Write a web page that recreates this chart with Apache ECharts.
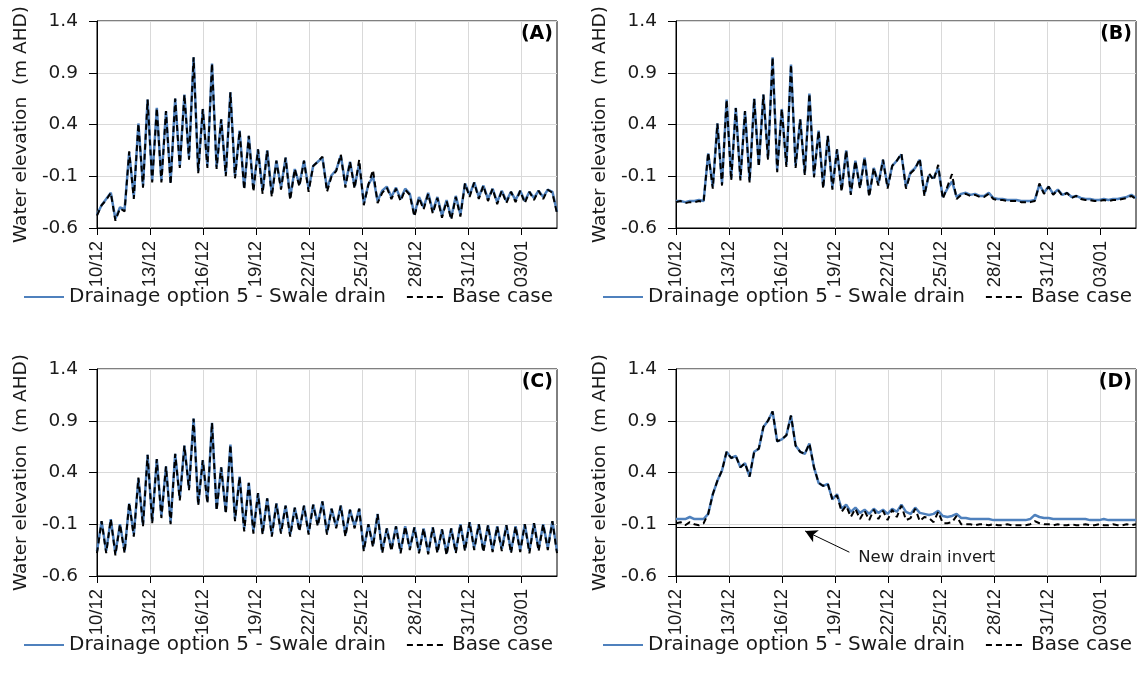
<!DOCTYPE html>
<html>
<head>
<meta charset="utf-8">
<script src="https://cdn.jsdelivr.net/npm/echarts@6/dist/echarts.min.js"></script>
<style>
html,body{margin:0;padding:0;background:#fff;}
#chart{width:1143px;height:682px;}
</style>
</head>
<body>
<div id="chart"></div>
<script>
// ---- data ----
const tickLabels = ['10/12','13/12','16/12','19/12','22/12','25/12','28/12','31/12','03/01'];
const tickDays = [0,3,6,9,12,15,18,21,24];
const stepDays = 0.26;           // sampling step (days since 10/12)
const seriesNames = ['Drainage option 5 - Swale drain', 'Base case'];
const panelLabels = ['(A)','(B)','(C)','(D)'];
const yTicks = [-0.6,-0.1,0.4,0.9,1.4];
const drainInvert = -0.13;
const invertText = 'New drain invert';

const swaleA = [
 -0.47,-0.38,-0.32,-0.26,-0.51,-0.40,-0.42,0.13,-0.30,0.41,
 -0.19,0.64,-0.14,0.56,-0.14,0.53,-0.16,0.65,0.00,0.69,
 0.08,1.05,-0.05,0.55,0.00,0.99,-0.01,0.45,-0.08,0.71,
 -0.10,0.34,-0.21,0.29,-0.22,0.16,-0.24,0.15,-0.27,0.05,
 -0.21,0.08,-0.30,-0.03,-0.18,0.05,-0.22,0.00,0.04,0.08,
 -0.22,-0.09,-0.04,0.10,-0.18,0.04,-0.20,0.02,-0.36,-0.18,
 -0.10,-0.34,-0.24,-0.20,-0.30,-0.21,-0.32,-0.22,-0.27,-0.47,
 -0.30,-0.40,-0.26,-0.44,-0.30,-0.48,-0.33,-0.50,-0.29,-0.47,
 -0.17,-0.28,-0.16,-0.30,-0.19,-0.32,-0.22,-0.35,-0.24,-0.34,
 -0.25,-0.33,-0.24,-0.34,-0.25,-0.31,-0.24,-0.30,-0.23,-0.25,
 -0.44];
const baseA = [
 -0.48,-0.38,-0.33,-0.26,-0.53,-0.41,-0.44,0.14,-0.32,0.41,
 -0.21,0.64,-0.16,0.56,-0.16,0.53,-0.18,0.65,-0.02,0.69,
 0.06,1.05,-0.07,0.55,-0.02,0.99,-0.03,0.45,-0.10,0.71,
 -0.12,0.34,-0.23,0.29,-0.25,0.16,-0.27,0.15,-0.30,0.05,
 -0.23,0.08,-0.33,-0.03,-0.20,0.05,-0.25,0.00,0.04,0.09,
 -0.25,-0.10,-0.05,0.11,-0.21,0.04,-0.22,0.06,-0.38,-0.18,
 -0.04,-0.36,-0.26,-0.21,-0.32,-0.22,-0.34,-0.23,-0.28,-0.49,
 -0.31,-0.42,-0.27,-0.46,-0.31,-0.50,-0.34,-0.52,-0.30,-0.49,
 -0.17,-0.30,-0.16,-0.32,-0.19,-0.34,-0.22,-0.37,-0.24,-0.36,
 -0.25,-0.35,-0.24,-0.36,-0.25,-0.33,-0.24,-0.32,-0.23,-0.26,
 -0.46];
const swaleB = [
 -0.34,-0.34,-0.35,-0.34,-0.34,-0.33,-0.34,0.12,-0.20,0.41,
 -0.17,0.64,-0.12,0.56,-0.12,0.53,-0.14,0.65,0.01,0.69,
 0.08,1.05,-0.04,0.55,0.01,0.98,0.00,0.45,-0.07,0.70,
 -0.09,0.34,-0.20,0.29,-0.21,0.16,-0.23,0.15,-0.26,0.05,
 -0.20,0.08,-0.28,-0.02,-0.17,0.06,-0.20,0.00,0.05,0.11,
 -0.20,-0.06,-0.02,0.06,-0.27,-0.09,-0.12,-0.02,-0.30,-0.22,
 -0.15,-0.30,-0.27,-0.26,-0.28,-0.27,-0.29,-0.29,-0.26,-0.31,
 -0.32,-0.32,-0.33,-0.33,-0.33,-0.34,-0.34,-0.34,-0.33,-0.18,
 -0.26,-0.20,-0.27,-0.23,-0.28,-0.26,-0.30,-0.29,-0.31,-0.32,
 -0.32,-0.33,-0.33,-0.32,-0.33,-0.32,-0.32,-0.31,-0.30,-0.28,
 -0.31];
const baseB = [
 -0.35,-0.34,-0.36,-0.35,-0.35,-0.34,-0.35,0.13,-0.22,0.41,
 -0.19,0.64,-0.14,0.56,-0.14,0.53,-0.16,0.65,-0.01,0.69,
 0.06,1.05,-0.06,0.55,-0.01,0.98,-0.02,0.45,-0.09,0.70,
 -0.11,0.34,-0.22,0.29,-0.23,0.16,-0.25,0.15,-0.28,0.05,
 -0.22,0.08,-0.30,-0.02,-0.19,0.06,-0.22,0.00,0.05,0.12,
 -0.22,-0.07,-0.03,0.07,-0.29,-0.07,-0.14,0.01,-0.32,-0.20,
 -0.08,-0.32,-0.28,-0.27,-0.29,-0.28,-0.30,-0.30,-0.27,-0.32,
 -0.33,-0.33,-0.34,-0.34,-0.34,-0.35,-0.35,-0.35,-0.34,-0.17,
 -0.27,-0.20,-0.28,-0.23,-0.29,-0.26,-0.31,-0.29,-0.32,-0.33,
 -0.33,-0.34,-0.34,-0.33,-0.34,-0.33,-0.33,-0.32,-0.31,-0.29,
 -0.32];
const swaleC = [
 -0.36,-0.07,-0.36,-0.05,-0.38,-0.10,-0.36,0.10,-0.20,0.34,
 -0.10,0.57,-0.07,0.53,-0.02,0.46,-0.08,0.58,0.15,0.66,
 0.25,0.92,0.10,0.52,0.12,0.88,0.05,0.45,0.02,0.67,
 -0.05,0.36,-0.15,0.30,-0.17,0.20,-0.18,0.15,-0.20,0.10,
 -0.17,0.08,-0.20,0.06,-0.15,0.08,-0.18,0.09,-0.10,0.12,
 -0.18,0.05,-0.12,0.08,-0.20,0.04,-0.12,0.05,-0.34,-0.10,
 -0.30,0.00,-0.36,-0.14,-0.34,-0.12,-0.36,-0.12,-0.33,-0.13,
 -0.36,-0.14,-0.37,-0.13,-0.36,-0.15,-0.38,-0.14,-0.36,-0.10,
 -0.34,-0.08,-0.33,-0.10,-0.35,-0.11,-0.35,-0.12,-0.34,-0.11,
 -0.36,-0.12,-0.35,-0.10,-0.36,-0.09,-0.34,-0.10,-0.33,-0.07,
 -0.36];
const baseC = [
 -0.38,-0.07,-0.38,-0.05,-0.40,-0.10,-0.38,0.11,-0.22,0.35,
 -0.12,0.57,-0.09,0.53,-0.04,0.46,-0.10,0.58,0.13,0.66,
 0.23,0.92,0.08,0.52,0.10,0.88,0.03,0.45,0.00,0.67,
 -0.07,0.36,-0.17,0.30,-0.19,0.20,-0.20,0.15,-0.22,0.10,
 -0.19,0.08,-0.22,0.06,-0.17,0.08,-0.20,0.09,-0.12,0.12,
 -0.20,0.05,-0.14,0.08,-0.22,0.04,-0.14,0.05,-0.36,-0.10,
 -0.32,0.00,-0.38,-0.14,-0.36,-0.12,-0.38,-0.12,-0.35,-0.13,
 -0.38,-0.14,-0.39,-0.13,-0.38,-0.15,-0.40,-0.14,-0.38,-0.10,
 -0.36,-0.08,-0.35,-0.10,-0.37,-0.11,-0.37,-0.12,-0.36,-0.11,
 -0.38,-0.12,-0.37,-0.10,-0.38,-0.09,-0.36,-0.10,-0.35,-0.07,
 -0.38];
const swaleD = [
 -0.05,-0.05,-0.05,-0.03,-0.05,-0.05,-0.05,0.00,0.19,0.32,
 0.42,0.60,0.54,0.56,0.45,0.49,0.36,0.60,0.63,0.84,
 0.90,0.99,0.70,0.72,0.76,0.95,0.66,0.60,0.58,0.68,
 0.45,0.30,0.27,0.29,0.14,0.19,0.05,0.09,0.02,0.06,
 0.01,0.04,0.00,0.05,0.01,0.04,0.00,0.05,0.02,0.09,
 0.02,0.00,0.06,0.01,0.00,-0.01,0.00,0.03,-0.02,-0.03,
 -0.02,0.00,-0.04,-0.04,-0.05,-0.05,-0.05,-0.05,-0.05,-0.06,
 -0.06,-0.06,-0.06,-0.06,-0.06,-0.06,-0.06,-0.05,-0.01,-0.03,
 -0.04,-0.04,-0.05,-0.05,-0.05,-0.05,-0.05,-0.05,-0.05,-0.05,
 -0.06,-0.06,-0.06,-0.05,-0.06,-0.06,-0.06,-0.06,-0.06,-0.06,
 -0.06];
const baseD = [
 -0.09,-0.08,-0.11,-0.08,-0.10,-0.11,-0.09,0.00,0.19,0.32,
 0.42,0.60,0.54,0.56,0.45,0.49,0.36,0.60,0.63,0.84,
 0.90,0.99,0.70,0.72,0.76,0.95,0.66,0.60,0.58,0.68,
 0.45,0.30,0.27,0.29,0.14,0.18,0.02,0.08,-0.03,0.05,
 -0.05,0.03,-0.06,0.04,-0.05,0.03,-0.06,0.04,-0.03,0.08,
 -0.06,-0.04,0.05,-0.07,-0.03,-0.04,-0.08,0.02,-0.09,-0.09,
 -0.08,-0.02,-0.10,-0.10,-0.10,-0.11,-0.10,-0.10,-0.11,-0.10,
 -0.11,-0.11,-0.10,-0.11,-0.11,-0.11,-0.11,-0.10,-0.07,-0.09,
 -0.10,-0.10,-0.11,-0.10,-0.11,-0.11,-0.10,-0.11,-0.11,-0.10,
 -0.11,-0.11,-0.10,-0.11,-0.11,-0.10,-0.11,-0.11,-0.10,-0.11,
 -0.10];
// annotation anchor points in data units (day, m AHD)
const arrowFrom = [9.8, -0.37];
const arrowTo = [7.3, -0.165];
const textAt = [10.3, -0.42];

// ---- layout / style ----
const FONT = 'DejaVu Sans';
const FONT_X = 'Liberation Sans';
const TXT = '#1a1a1a';
const BLUE = '#4F81BD';
const grids = [
  {left: 97, top: 21, width: 460, height: 207},
  {left: 676, top: 21, width: 460, height: 207},
  {left: 97, top: 369, width: 460, height: 207},
  {left: 676, top: 369, width: 460, height: 207}
];
const panelData = [[swaleA, baseA],[swaleB, baseB],[swaleC, baseC],[swaleD, baseD]];

const toPairs = vals => vals.map((v, i) => [+(i * stepDays).toFixed(2), v]);

const option = {
  animation: false,
  backgroundColor: '#fff',
  textStyle: {fontFamily: FONT, color: TXT},
  grid: grids.map(g => Object.assign({show: true, borderColor: '#000', borderWidth: 1, backgroundColor: 'transparent'}, g)),
  title: grids.map((g, k) => ({
    text: panelLabels[k],
    right: 1143 - (g.left + g.width) + 4,
    top: g.top + 4,
    padding: 0,
    textStyle: {fontFamily: FONT, fontWeight: 'bold', fontSize: 19, color: '#000'}
  })),
  legend: grids.map(g => ({
    left: g.left - 74,
    top: g.top + g.height + 59,
    itemWidth: 40,
    itemHeight: 14,
    itemGap: 20,
    padding: 0,
    itemStyle: {color: 'rgba(0,0,0,0)', borderColor: 'rgba(0,0,0,0)', borderWidth: 0, opacity: 0},
    textStyle: {fontFamily: FONT, fontSize: 20, color: TXT},
    data: seriesNames
  })),
  xAxis: grids.map((g, k) => ({
    type: 'value', gridIndex: k, min: 0, max: 26, interval: 3,
    axisLine: {show: true, onZero: false, lineStyle: {color: '#000', width: 1}},
    axisTick: {show: true, length: 7, inside: false, customValues: tickDays, lineStyle: {color: '#000'}},
    axisLabel: {
      rotate: 90, margin: 13, fontFamily: FONT_X, fontSize: 18.5, color: TXT,
      customValues: tickDays,
      formatter: v => { const j = tickDays.indexOf(Math.round(v)); return j >= 0 ? tickLabels[j] : ''; }
    },
    splitLine: {show: true, lineStyle: {color: '#d9d9d9', width: 1}}
  })),
  yAxis: grids.map((g, k) => ({
    type: 'value', gridIndex: k, min: -0.6, max: 1.4,
    name: 'Water elevation  (m AHD)', nameLocation: 'middle', nameGap: 66,
    nameTextStyle: {fontFamily: FONT, fontSize: 18.5, color: TXT},
    axisLine: {show: true, onZero: false, lineStyle: {color: '#000', width: 1}},
    axisTick: {show: true, length: 8, customValues: yTicks, lineStyle: {color: '#000'}},
    axisLabel: {margin: 19, fontFamily: FONT, fontSize: 18.5, color: TXT, customValues: yTicks,
      formatter: v => v.toFixed(1)},
    splitLine: {show: true, lineStyle: {color: '#d9d9d9', width: 1}}
  })),
  series: []
};

panelData.forEach((pair, k) => {
  const swale = {
    name: seriesNames[0], type: 'line', xAxisIndex: k, yAxisIndex: k,
    data: toPairs(pair[0]), symbol: 'none', showSymbol: false,
    lineStyle: {color: BLUE, width: 2.5}, itemStyle: {color: BLUE}, z: 2
  };
  const base = {
    name: seriesNames[1], type: 'line', xAxisIndex: k, yAxisIndex: k,
    data: toPairs(pair[1]), symbol: 'none', showSymbol: false,
    lineStyle: {color: '#000', width: 2, type: [6, 4]}, itemStyle: {color: '#000'}, z: 3
  };
  if (k === 3) {
    swale.markLine = {
      silent: true, animation: false, symbol: 'none',
      label: {show: false},
      lineStyle: {color: '#000', width: 1, type: 'solid'},
      emphasis: {disabled: true},
      data: [
        {yAxis: drainInvert},
        [
          {coord: arrowFrom, symbol: 'none'},
          {coord: arrowTo, symbol: 'arrow', symbolSize: [10, 12]}
        ]
      ]
    };
    swale.markPoint = {
      silent: true, animation: false,
      data: [{
        coord: textAt, symbol: 'circle', symbolSize: 0,
        itemStyle: {color: 'transparent'},
        label: {show: true, position: 'right', distance: 0, formatter: invertText,
          fontFamily: FONT, fontSize: 16.5, color: TXT}
      }]
    };
  }
  option.series.push(swale, base);
});

const chart = echarts.init(document.getElementById('chart'), null, {renderer: 'canvas'});
chart.setOption(option);
</script>
</body>
</html>
